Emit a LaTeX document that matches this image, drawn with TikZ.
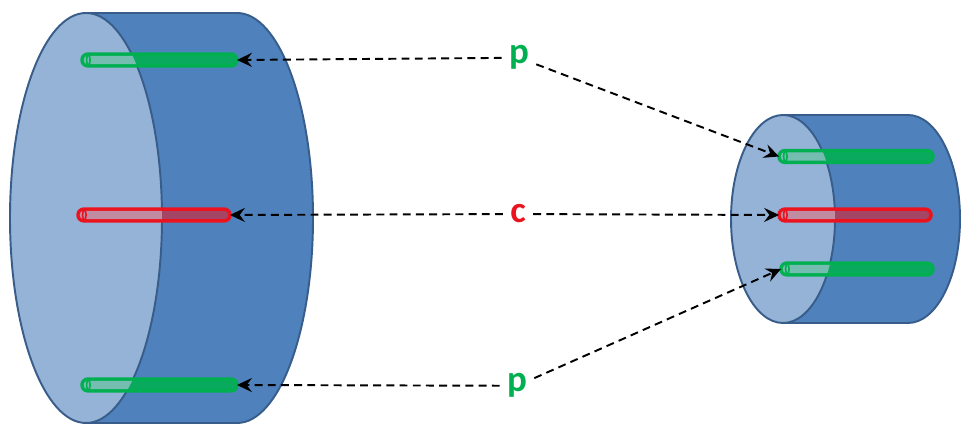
\documentclass[tikz,border=0pt]{standalone}
\usepackage{fontspec}
\setmainfont{Carlito}
\usetikzlibrary{arrows.meta}

\definecolor{faceblue}{RGB}{149,179,215}
\definecolor{bodyblue}{RGB}{79,129,189}
\definecolor{edgeblue}{RGB}{56,93,138}
\definecolor{pgreen}{RGB}{0,176,80}
\definecolor{cred}{RGB}{235,20,30}

\begin{document}
\begin{tikzpicture}[x=0.02cm,y=0.02cm,
  cylbody/.style={fill=bodyblue, draw=edgeblue, line width=1.1pt, line join=round},
  cylface/.style={fill=faceblue, draw=edgeblue, line width=1.1pt},
  rod/.style={draw=#1, line width=2pt, rounded corners=3.3pt,
    minimum height=0.235cm, inner sep=0pt, outer sep=0pt},
  greenrod/.style={rod=pgreen, fill=pgreen!88!bodyblue},
  redrod/.style={rod=cred, fill=cred!55!bodyblue},
  lbl/.style={font=\fontsize{21pt}{21pt}\selectfont\bfseries, inner sep=4pt, anchor=base},
  dashline/.style={draw=black, line width=1.1pt, dash pattern=on 4.5pt off 3pt,
    -{Stealth[length=8.5pt, width=8pt, inset=3pt]}}
]
% canvas
\fill[white] (0,0) rectangle (963,425);

% large cylinder
\path[cylbody] (86,412) -- (237,412)
  arc[start angle=90, end angle=-90, x radius=76, y radius=205] -- (86,2) -- cycle;
\path[cylface] (86,207) ellipse [x radius=76, y radius=205];

% small cylinder
\path[cylbody] (783,310) -- (908,310)
  arc[start angle=90, end angle=-90, x radius=52, y radius=104] -- (783,102) -- cycle;
\path[cylface] (783,206) ellipse [x radius=52, y radius=104];

% rods of the large cylinder
\node[greenrod, minimum width=3.1cm]  (gL1) at (159.5,365) {};
\node[redrod,   minimum width=3.04cm] (rL)  at (154,210) {};
\node[greenrod, minimum width=3.1cm]  (gL2) at (159.5,40) {};

% rods of the small cylinder
\node[greenrod, minimum width=3.08cm] (gR1) at (856,268.5) {};
\node[redrod,   minimum width=3.04cm] (rR)  at (855,210) {};
\node[greenrod, minimum width=3.04cm] (gR2) at (857,156) {};

% lighter rod cores seen through the end faces
\begin{scope}
  \clip (86,207) ellipse [x radius=76, y radius=205];
  \foreach \r/\c in {gL1/pgreen, gL2/pgreen, rL/cred}
    \fill[\c!38!faceblue!85!white, rounded corners=2pt]
      ([shift={(1pt,-1pt)}]\r.north west) rectangle ([shift={(-1pt,1pt)}]\r.south east);
\end{scope}
\begin{scope}
  \clip (783,206) ellipse [x radius=52, y radius=104];
  \foreach \r/\c in {gR1/pgreen, gR2/pgreen, rR/cred}
    \fill[\c!38!faceblue!85!white, rounded corners=2pt]
      ([shift={(1pt,-1pt)}]\r.north west) rectangle ([shift={(-1pt,1pt)}]\r.south east);
\end{scope}

% end caps of the rods
\foreach \r/\c in {gL1/pgreen, gL2/pgreen, rL/cred, gR1/pgreen, gR2/pgreen, rR/cred}
  \draw[\c, line width=0.9pt] ([xshift=3.6pt]\r.west) ellipse [x radius=1pt, y radius=2.8pt];

% labels
\node[lbl, text=pgreen] (pT) at (519,361) {p};
\node[lbl, text=cred]   (cM) at (518,202) {c};
\node[lbl, text=pgreen] (pB) at (517,33)  {p};

% pointers
\draw[dashline] (pT) -- (gL1.east);
\draw[dashline] (pT) -- (gR1.west);
\draw[dashline] (cM) -- (rL.east);
\draw[dashline] (cM) -- (rR.west);
\draw[dashline] (pB) -- (gL2.east);
\draw[dashline] (pB) -- (gR2.west);
\end{tikzpicture}
\end{document}
